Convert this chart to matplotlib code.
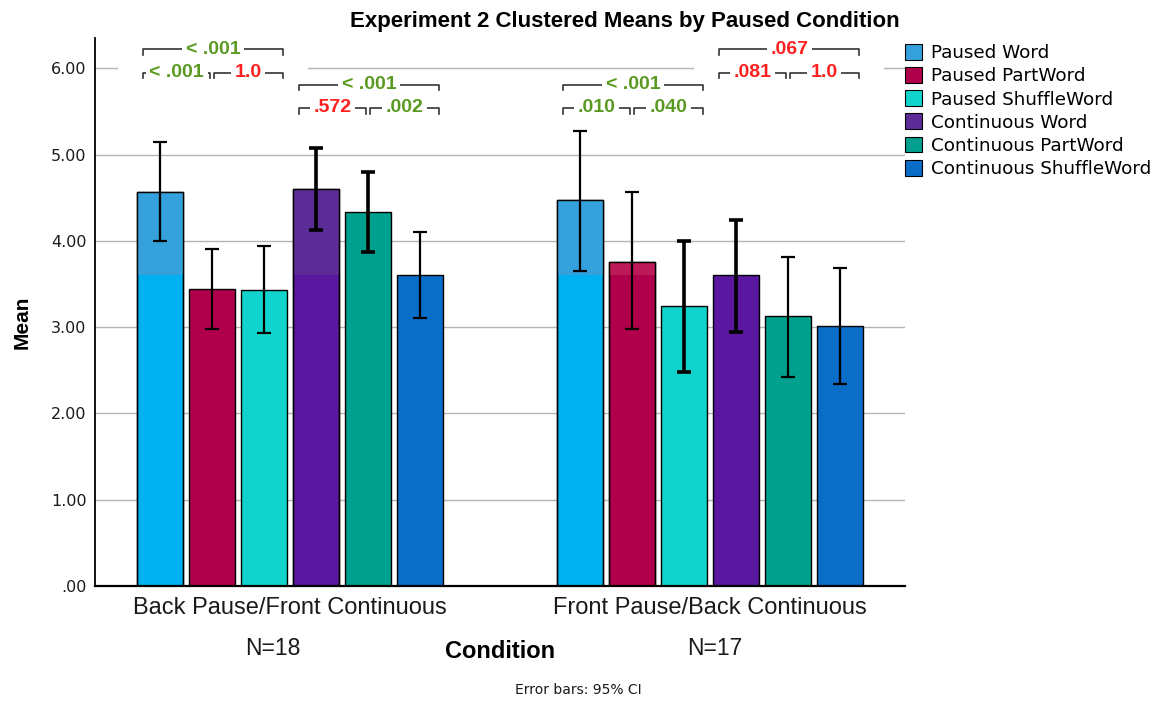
import numpy as np
import matplotlib
matplotlib.use('Agg')
import matplotlib.pyplot as plt
from matplotlib.patches import Patch, Rectangle

# 데이터
conditions = ['Back Pause/Front Continuous', 'Front Pause/Back Continuous']
n_labels = ['N=18', 'N=17']
series = ['Paused Word', 'Paused PartWord', 'Paused ShuffleWord',
          'Continuous Word', 'Continuous PartWord', 'Continuous ShuffleWord']

means = np.array([[4.57, 3.44, 3.43, 4.60, 4.33, 3.60],
                  [4.47, 3.76, 3.24, 3.60, 3.13, 3.01]])
ci_low = np.array([[4.00, 2.98, 2.93, 4.13, 3.87, 3.10],
                   [3.65, 2.98, 2.48, 2.94, 2.42, 2.34]])
ci_high = np.array([[5.15, 3.91, 3.94, 5.07, 4.80, 4.10],
                    [5.27, 4.57, 4.00, 4.24, 3.81, 3.68]])

# p값 주석: (조건, 묶음, 텍스트, 색)
p_top = [(0, 'paused', '< .001', 'green'), (0, 'cont', '< .001', 'green'),
         (1, 'paused', '< .001', 'green'), (1, 'cont', '.067', 'red')]
p_sub = [(0, 'paused', '< .001', 'green', '1.0', 'red'),
         (0, 'cont', '.572', 'red', '.002', 'green'),
         (1, 'paused', '.010', 'green', '.040', 'green'),
         (1, 'cont', '.081', 'red', '1.0', 'red')]

colors = ['#00b0f0', '#b0004c', '#10d4cc', '#5a18a0', '#00a08e', '#0a6ec8']
upper_colors = ['#34a0dc', '#bc1a58', '#10d4cc', '#5c2c96', '#00a08e', '#0a6ec8']
err_lw = [[1.6, 1.6, 1.6, 2.6, 2.6, 1.6],
          [1.6, 1.6, 2.6, 2.6, 1.6, 1.6]]
text_col = {'green': '#5a9a22', 'red': '#ff1f1f'}
FONT = ['Liberation Sans', 'DejaVu Sans']

step = 52 / 420
width = 46 / 420

fig = plt.figure(figsize=(11.52, 7.02), dpi=100)
ax = fig.add_axes([95 / 1152, 1 - 586 / 702, 810 / 1152, (586 - 38) / 702])

ax.set_xlim(-0.464, 1.464)
ax.set_ylim(0, 6.35)
ax.set_yticks([0, 1, 2, 3, 4, 5, 6])
ax.set_yticklabels(['.00', '1.00', '2.00', '3.00', '4.00', '5.00', '6.00'],
                   fontsize=11.5, color='#1a1a1a')
ax.tick_params(axis='y', length=0, pad=6)
ax.set_xticks([])
ax.yaxis.grid(True, color='#b4b4b4', lw=1.0)
ax.set_axisbelow(True)
for s in ['top', 'right']:
    ax.spines[s].set_visible(False)
ax.spines['left'].set_linewidth(1.3)
ax.spines['bottom'].set_linewidth(1.6)


def bar_x(g, i):
    return g + (i - 2.5) * step


for g in range(2):
    for i in range(6):
        x = bar_x(g, i)
        m = means[g, i]
        ax.bar(x, m, width=width, color=colors[i], edgecolor='black', lw=1.0, zorder=2)
        # 위쪽 색이 살짝 다른 부분
        if m > 3.6 and upper_colors[i] != colors[i]:
            ax.bar(x, m - 3.6, bottom=3.6, width=width, color=upper_colors[i],
                   edgecolor='none', zorder=2.1)
            ax.bar(x, m, width=width, color='none', edgecolor='black', lw=1.0, zorder=2.2)
        ax.errorbar(x, m, yerr=[[m - ci_low[g, i]], [ci_high[g, i] - m]], fmt='none',
                    ecolor='black', elinewidth=err_lw[g][i], capsize=5,
                    capthick=err_lw[g][i], zorder=4)


def bracket(x0, x1, y, text, color):
    ax.plot([x0, x0, x1, x1], [y - 0.065, y, y, y - 0.065], color='#333333',
            lw=1.2, zorder=5, clip_on=False)
    ax.text((x0 + x1) / 2, y, text, color=text_col[color], ha='center', va='center',
            fontsize=14, fontweight='bold', family=FONT,
            bbox=dict(facecolor='white', edgecolor='none', pad=2.5), zorder=6, clip_on=False)


first = {'paused': 0, 'cont': 3}
# 윗줄 높이
row_y = {(0, 'paused'): 6.22, (0, 'cont'): 5.81, (1, 'paused'): 5.81, (1, 'cont'): 6.22}

for g, kind, txt, col in p_top:
    i0 = first[kind]
    x0 = bar_x(g, i0) - width / 2 + 0.015
    x1 = bar_x(g, i0 + 2) + width / 2 - 0.01
    y = row_y[(g, kind)]
    ax.add_patch(Rectangle((x0 - 0.06, y - 0.4), x1 - x0 + 0.12, 0.5,
                           facecolor='white', edgecolor='none', zorder=3, clip_on=False))
    bracket(x0, x1, y, txt, col)

for g, kind, t1, c1, t2, c2 in p_sub:
    i0 = first[kind]
    x0 = bar_x(g, i0) - width / 2 + 0.015
    xm = bar_x(g, i0 + 1)
    x1 = bar_x(g, i0 + 2) + width / 2 - 0.01
    y = row_y[(g, kind)] - 0.27
    bracket(x0, xm - 0.004, y, t1, c1)
    bracket(xm + 0.004, x1, y, t2, c2)

# 범주 라벨
for g in range(2):
    ax.text(g, -0.25, conditions[g], ha='center', va='center', fontsize=17,
            family=FONT, color='#1a1a1a')
    ax.text(g - 0.04 * (1 - g) + 0.01 * g, -0.72, n_labels[g], ha='center', va='center',
            fontsize=16.5, family=FONT, color='#1a1a1a')

fig.text(500 / 1152, 1 - 652 / 702, 'Condition', ha='center', va='center', fontsize=17,
         fontweight='bold', family=FONT)
fig.text(578 / 1152, 1 - 690 / 702, 'Error bars: 95% CI', ha='center', va='center',
         fontsize=10, color='#1a1a1a')
fig.text(22 / 1152, 1 - 322 / 702, 'Mean', ha='center', va='center', rotation=90,
         fontsize=15, fontweight='bold', family=FONT)
fig.text(625 / 1152, 1 - 22 / 702, 'Experiment 2 Clustered Means by Paused Condition',
         ha='center', va='center', fontsize=16, fontweight='bold', family=FONT)

handles = [Patch(facecolor=upper_colors[i] if i != 1 else colors[i], edgecolor='black', lw=0.8)
           for i in range(6)]
fig.legend(handles, series, loc='upper left', bbox_to_anchor=(905 / 1152, 1 - 44 / 702),
           frameon=False, fontsize=13.2, handlelength=0.95, handleheight=0.95,
           labelspacing=0.27, handletextpad=0.45, borderaxespad=0, borderpad=0)

fig.savefig('out.png', dpi=100)
